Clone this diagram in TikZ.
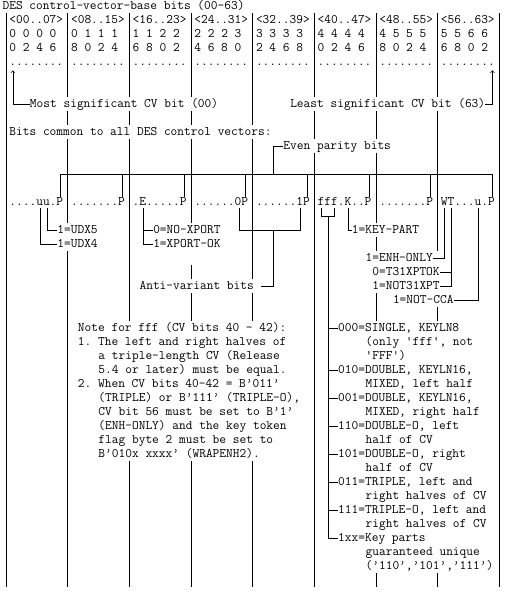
\documentclass[tikz,border=0pt]{standalone}
\usepackage{tikz}

\newcommand{\cvfont}{\ttfamily\fontsize{13.05pt}{14pt}\selectfont\frenchspacing}
\newcommand{\sq}{\textquotesingle}

\begin{document}
\begin{tikzpicture}[x=6.85pt, y=-14pt,
        txt/.style={anchor=west, inner sep=0pt, outer sep=0pt, text height=8pt, text depth=0.6pt, font=\cvfont},
        ln/.style={black, line width=0.7pt}]
        \useasboundingbox (-0.876,-0.4286) rectangle (72.993,41.857);

        % column rules
        \draw[ln] (0,0.5) -- (0,41.5);
        \draw[ln] (72,0.5) -- (72,41.5);
        \draw[ln] (9,0.5) -- (9,6.5) (9,7.5) -- (9,8.5) (9,9.5) -- (9,15.5) (9,17.5) -- (9,41.5);
        \draw[ln] (18,0.5) -- (18,6.5) (18,7.5) -- (18,8.5) (18,9.5) -- (18,22.5) (18,32.5) -- (18,41.5);
        \draw[ln] (27,0.5) -- (27,6.5) (27,7.5) -- (27,8.5) (27,9.5) -- (27,15.5) (27,18.5) -- (27,19.5) (27,20.5) -- (27,22.5) (27,32.5) -- (27,41.5);
        \draw[ln] (36,0.5) -- (36,8.5) (36,9.5) -- (36,19.5) (36,20.5) -- (36,22.5) (36,32.5) -- (36,41.5);
        \draw[ln] (45,0.5) -- (45,6.5) (45,7.5) -- (45,9.5) (45,10.5) -- (45,41.5);
        \draw[ln] (54,0.5) -- (54,6.5) (54,7.5) -- (54,9.5) (54,10.5) -- (54,15.5) (54,16.5) -- (54,17.5) (54,20.5) -- (54,22.5) (54,40.5) -- (54,41.5);
        \draw[ln] (63,0.5) -- (63,6.5) (63,7.5) -- (63,17.5) (63,21.5) -- (63,22.5) (63,40.5) -- (63,41.5);

        % header
        \node[txt] (title) at (-0.5,0) {DES control-vector-base bits (00-63)};
        \foreach \k/\rng/\hi/\lo in {0/00..07/0 0 0 0/0 2 4 6, 1/08..15/0 1 1 1/8 0 2 4,
                2/16..23/1 1 2 2/6 8 0 2, 3/24..31/2 2 2 3/4 6 8 0, 4/32..39/3 3 3 3/2 4 6 8,
                5/40..47/4 4 4 4/0 2 4 6, 6/48..55/4 5 5 5/8 0 2 4, 7/56..63/5 5 6 6/6 8 0 2} {
            \node[txt] (rng\k) at (9*\k+0.5,1) {<\rng>};
            \node[txt] (hi\k) at (9*\k+0.5,2) {\hi};
            \node[txt] (lo\k) at (9*\k+0.5,3) {\lo};
            \node[txt] (dots\k) at (9*\k+0.5,4) {........};
        }

        \node[txt] (msb) at (3.5,7) {Most significant CV bit (00)};
        \node[txt] (lsb) at (41.5,7) {Least significant CV bit (63)};
        \node[txt] (common) at (0.5,9) {Bits common to all DES control vectors:};
        \node[txt] (even) at (40.5,10) {Even parity bits};

        % the bits
        \node[txt] (byte0) at (0.5,14) {....uu.P};
        \node[txt] (byte1) at (9.5,14) {.......P};
        \node[txt] (byte2) at (18.5,14) {.E.....P};
        \node[txt] (byte3) at (27.5,14) {......0P};
        \node[txt] (byte4) at (36.5,14) {......1P};
        \node[txt] (byte5) at (45.5,14) {fff.K..P};
        \node[txt] (byte6) at (54.5,14) {.......P};
        \node[txt] (byte7) at (63.5,14) {WT...u.P};

        % bit meanings
        \node[txt] (udx5) at (7.5,16) {1=UDX5};
        \node[txt] (udx4) at (7.5,17) {1=UDX4};
        \node[txt] (noxport) at (21.5,16) {0=NO-XPORT};
        \node[txt] (xportok) at (21.5,17) {1=XPORT-OK};
        \node[txt] (keypart) at (50.5,16) {1=KEY-PART};
        \node[txt] (enh) at (52.5,18) {1=ENH-ONLY};
        \node[txt] (t31ok) at (53.5,19) {0=T31XPTOK};
        \node[txt] (not31) at (53.5,20) {1=NOT31XPT};
        \node[txt] (antivar) at (19.5,20) {Anti-variant bits};
        \node[txt] (notcca) at (56.5,21) {1=NOT-CCA};

        % note
        \node[txt] (note0) at (10.5,23) {Note for fff (CV bits 40 - 42):};
        \node[txt] (note1) at (10.5,24) {1. The left and right halves of};
        \node[txt] (note2) at (13.5,25) {a triple-length CV (Release};
        \node[txt] (note3) at (13.5,26) {5.4 or later) must be equal.};
        \node[txt] (note4) at (10.5,27) {2. When CV bits 40-42 = B’011’};
        \node[txt] (note5) at (13.5,28) {(TRIPLE) or B’111’ (TRIPLE-O),};
        \node[txt] (note6) at (13.5,29) {CV bit 56 must be set to B’1’};
        \node[txt] (note7) at (13.5,30) {(ENH-ONLY) and the key token};
        \node[txt] (note8) at (13.5,31) {flag byte 2 must be set to};
        \node[txt] (note9) at (13.5,32) {B’010x xxxx’ (WRAPENH2).};

        % fff values
        \node[txt] (f000) at (48.5,23) {000=SINGLE, KEYLN8};
        \node[txt] (c000a) at (52.5,24) {(only \sq fff\sq, not};
        \node[txt] (c000b) at (52.5,25) {\sq FFF\sq)};
        \node[txt] (f010) at (48.5,26) {010=DOUBLE, KEYLN16,};
        \node[txt] (c010) at (52.5,27) {MIXED, left half};
        \node[txt] (f001) at (48.5,28) {001=DOUBLE, KEYLN16,};
        \node[txt] (c001) at (52.5,29) {MIXED, right half};
        \node[txt] (f110) at (48.5,30) {110=DOUBLE-O, left};
        \node[txt] (c110) at (52.5,31) {half of CV};
        \node[txt] (f101) at (48.5,32) {101=DOUBLE-O, right};
        \node[txt] (c101) at (52.5,33) {half of CV};
        \node[txt] (f011) at (48.5,34) {011=TRIPLE, left and};
        \node[txt] (c011) at (52.5,35) {right halves of CV};
        \node[txt] (f111) at (48.5,36) {111=TRIPLE-O, left and};
        \node[txt] (c111) at (52.5,37) {right halves of CV};
        \node[txt] (f1xx) at (48.5,38) {1xx=Key parts};
        \node[txt] (c1xxa) at (52.5,39) {guaranteed unique};
        \node[txt] (c1xxb) at (52.5,40) {(’110’,’101’,’111’)};

        % most and least significant bit
        \draw[ln,->] (msb.west) -| (1,4.6);
        \draw[ln,->] (lsb.east) -| (71,4.6);

        % parity bus
        \draw[ln] (even.west) -| (39,12);
        \draw[ln] (8,13.65) |- (71,12) -- (71,13.65);
        \draw[ln] (17,12) -- (17,13.65);
        \draw[ln] (26,12) -- (26,13.65);
        \draw[ln] (35,12) -- (35,13.65);
        \draw[ln] (44,12) -- (44,13.65);
        \draw[ln] (53,12) -- (53,13.65);
        \draw[ln] (62,12) -- (62,13.65);

        % connectors below the bits
        \draw[ln] (6,14.4) |- (udx5.west);
        \draw[ln] (5,14.4) |- (udx4.west);
        \draw[ln] (20,14.4) |- (xportok.west);
        \draw[ln] (20,16) -- (noxport.west);
        \draw[ln] (34,14.4) |- (43,16) -- (43,14.4);
        \draw[ln] (39,16) |- ([xshift=6.85pt]antivar.east);
        \draw[ln] (50,14.4) |- (keypart.west);
        \draw[ln] (64,14.4) |- (enh.east);
        \draw[ln] (65,14.4) |- (not31.east);
        \draw[ln] (65,19) -- (t31ok.east);
        \draw[ln] (69,14.4) |- (notcca.east);

        % fff bracket
        \draw[ln] (46,14.4) |- (48,15) -- (48,14.4);
        \draw[ln] (47,15) |- (f1xx.west);
        \draw[ln] (f000.west) -- ++(-1.5,0);
        \draw[ln] (f010.west) -- ++(-1.5,0);
        \draw[ln] (f001.west) -- ++(-1.5,0);
        \draw[ln] (f110.west) -- ++(-1.5,0);
        \draw[ln] (f101.west) -- ++(-1.5,0);
        \draw[ln] (f011.west) -- ++(-1.5,0);
        \draw[ln] (f111.west) -- ++(-1.5,0);
    \end{tikzpicture}
\end{document}
